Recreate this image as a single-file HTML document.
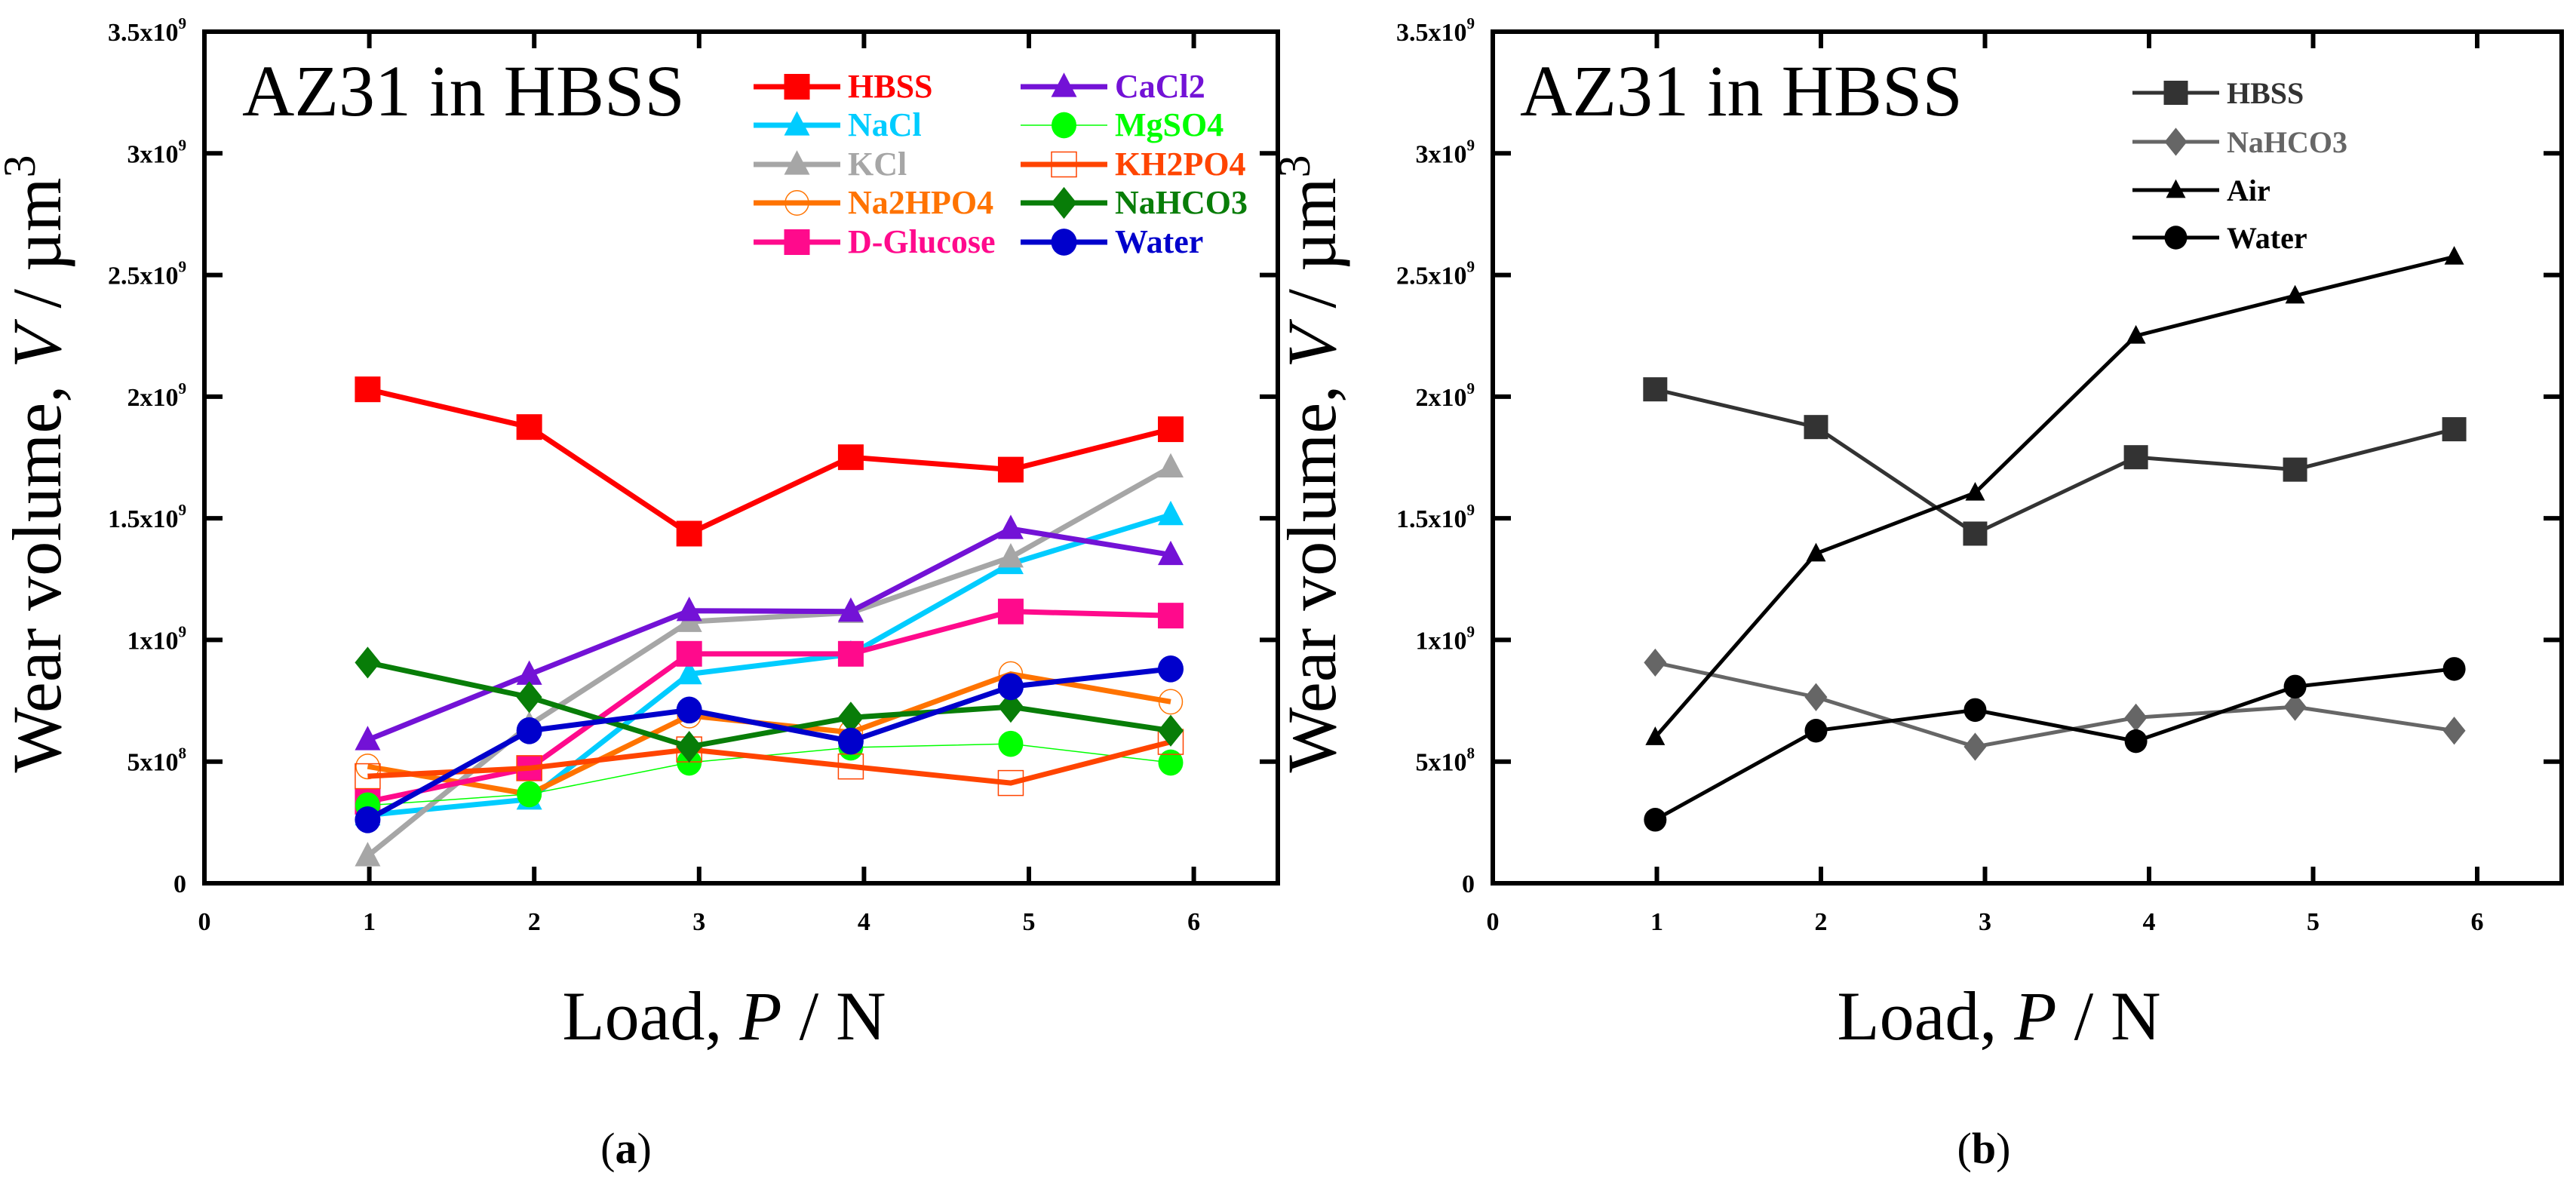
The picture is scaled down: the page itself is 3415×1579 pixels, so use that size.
<!DOCTYPE html>
<html><head><meta charset="utf-8"><style>
html,body{margin:0;padding:0;background:#fff;}
svg{display:block;}
</style></head><body>
<svg id="fig" xmlns="http://www.w3.org/2000/svg" width="3415" height="1579" viewBox="0 0 3415 1579">
<rect width="3415" height="1579" fill="#fff"/>
</svg>
<script>
const loads = [0.99, 1.97, 2.94, 3.92, 4.89, 5.86];
const xTicks = [0, 1, 2, 3, 4, 5, 6];
const yTicks = [0, 0.5, 1, 1.5, 2, 2.5, 3, 3.5];
const yTickLabels = [["0",""],["5x10","8"],["1x10","9"],["1.5x10","9"],["2x10","9"],["2.5x10","9"],["3x10","9"],["3.5x10","9"]];
const hbss = [2.03, 1.875, 1.437, 1.751, 1.70, 1.866];
const nacl = [0.28, 0.345, 0.86, 0.941, 1.313, 1.514];
const kcl = [0.112, 0.65, 1.075, 1.112, 1.34, 1.71];
const na2hpo4 = [0.48, 0.366, 0.689, 0.62, 0.86, 0.746];
const dglucose = [0.335, 0.473, 0.943, 0.943, 1.117, 1.10];
const cacl2 = [0.589, 0.858, 1.12, 1.117, 1.457, 1.35];
const mgso4 = [0.32, 0.366, 0.496, 0.558, 0.573, 0.496];
const kh2po4 = [0.44, 0.473, 0.55, 0.48, 0.412, 0.581];
const nahco3 = [0.907, 0.765, 0.561, 0.681, 0.725, 0.627];
const water = [0.261, 0.627, 0.712, 0.584, 0.808, 0.881];
const air = [0.6, 1.355, 1.605, 2.25, 2.415, 2.575];

const NS = "http://www.w3.org/2000/svg";
const svg = document.getElementById('fig');
function el(tag, attrs, parent, txt){
  const e = document.createElementNS(NS, tag);
  for (const k in attrs) e.setAttribute(k, attrs[k]);
  if (txt !== undefined) e.textContent = txt;
  (parent||svg).appendChild(e);
  return e;
}
const Y0 = 1171, YTOP = 42;
function makeY(){ return v => Y0 - v/3.5*(Y0-YTOP); }

function marker(g, type, cx, cy, color, s){
  let m;
  if (type==='square'){ m = el('rect',{x:cx-s/2,y:cy-s/2,width:s,height:s,fill:color},g); }
  else if (type==='osquare'){ m = el('rect',{x:cx-s/2,y:cy-s/2,width:s,height:s,fill:'none',stroke:color,'stroke-width':1.5},g); }
  else if (type==='circle'){ m = el('ellipse',{cx:cx,cy:cy,rx:s/2,ry:s/2*1.05,fill:color},g); }
  else if (type==='ocircle'){ m = el('ellipse',{cx:cx,cy:cy,rx:s/2,ry:s/2*1.05,fill:'none',stroke:color,'stroke-width':1.5},g); }
  else if (type==='triangle'){ m = el('polygon',{points:`${cx},${cy-s*0.55} ${cx-s/2},${cy+s*0.4} ${cx+s/2},${cy+s*0.4}`,fill:color},g); }
  else if (type==='diamond'){ m = el('polygon',{points:`${cx},${cy-s*0.62} ${cx+s*0.5},${cy} ${cx},${cy+s*0.62} ${cx-s*0.5},${cy}`,fill:color},g); }
  return m;
}

function drawPanel(p){
  const X0 = p.x0, step = p.step;
  const xs = v => X0 + v*step;
  const ys = makeY();
  const g = el('g',{});
  
  
  // series
  p.series.forEach(s=>{
    const sg = el('g',{},g);
    
    
    const pts = s.data.map((v,i)=>xs(loads[i])+','+ys(v)).join(' ');
    el('polyline',{points:pts,fill:'none',stroke:s.color,'stroke-width':s.lw,'stroke-linejoin':'miter'},sg);
    s.data.forEach((v,i)=>{
      const m = marker(sg, s.marker, xs(loads[i]), ys(v), s.mcolor||s.color, s.ms);
      
      
    });
  });
  // frame
  const fr = el('rect',{x:X0,y:YTOP,width:p.right-X0,height:Y0-YTOP,fill:'none',stroke:'#000','stroke-width':6},g);
  
  
  // x ticks
  xTicks.forEach(t=>{
    const x = xs(t);
    if (t>0){
      el('line',{x1:x,y1:Y0,x2:x,y2:Y0-22,stroke:'#000','stroke-width':6},g);
      el('line',{x1:x,y1:YTOP,x2:x,y2:YTOP+22,stroke:'#000','stroke-width':6},g);
    }
    const tl = el('text',{x:x,y:Y0+62,'text-anchor':'middle','font-family':'Liberation Serif, serif','font-weight':'bold','font-size':p.tfs},g,String(t));
    
    
  });
  // y ticks
  yTicks.forEach((t,i)=>{
    const y = ys(t);
    if (t>0 && t<3.5){
      el('line',{x1:X0,y1:y,x2:X0+24,y2:y,stroke:'#000','stroke-width':6},g);
      el('line',{x1:p.right,y1:y,x2:p.right-24,y2:y,stroke:'#000','stroke-width':6},g);
    }
    const tl = el('text',{x:X0-24,y:y+12,'text-anchor':'end','font-family':'Liberation Serif, serif','font-weight':'bold','font-size':p.tfs},g);
    
    
    const a = el('tspan',{},tl,yTickLabels[i][0]);
    if (yTickLabels[i][1]) el('tspan',{dy:-16,'font-size':p.tfs*0.62},tl,yTickLabels[i][1]);
  });
  // title
  const tt = el('text',{x:p.titleX,y:p.titleY,'font-family':'Liberation Serif, serif','font-size':p.titleFs},g,'AZ31 in HBSS');
  
  
  // legend
  p.series.forEach((s,i)=>{
    const L = p.legendPos[i];
    const lg = el('g',{},g);
    
    
    el('line',{x1:L[0],y1:L[1],x2:L[0]+p.legLen,y2:L[1],stroke:s.color,'stroke-width':s.lw},lg);
    marker(lg, s.marker, L[0]+p.legLen/2, L[1], s.mcolor||s.color, s.ms);
    el('text',{x:L[0]+p.legLen+10,y:L[1]+14,'font-family':'Liberation Serif, serif','font-weight':'bold','font-size':p.legFs,fill:s.tcolor||s.color},lg,s.label);
  });
  // axis titles
  const xt = el('text',{x:p.xlabX,y:1378,'text-anchor':'middle','font-family':'Liberation Serif, serif','font-size':92},g);
  
  
  el('tspan',{},xt,'Load, ');
  el('tspan',{'font-style':'italic'},xt,'P');
  el('tspan',{},xt,' / N');
  const yt = el('text',{x:0,y:0,'text-anchor':'middle','font-family':'Liberation Serif, serif','font-size':92,transform:`translate(${p.ylabX},615) rotate(-90)`},g);
  
  
  el('tspan',{},yt,'Wear volume, ');
  el('tspan',{'font-style':'italic'},yt,'V');
  el('tspan',{},yt,' / \u00b5m');
  el('tspan',{dy:-34,'font-size':60},yt,'3');
  const cap = el('text',{x:p.capX,y:1542,'text-anchor':'middle','font-family':'Liberation Serif, serif','font-size':58},g);
  
  
  el('tspan',{},cap,'(');
  el('tspan',{'font-weight':'bold'},cap,p.cap);
  el('tspan',{},cap,')');
}

const seriesA = [
  {key:'hbss',label:'HBSS',data:hbss,color:'#ff0000',marker:'square',ms:34,lw:7},
  {key:'nacl',label:'NaCl',data:nacl,color:'#00ccff',marker:'triangle',ms:34,lw:7},
  {key:'kcl',label:'KCl',data:kcl,color:'#a6a6a6',marker:'triangle',ms:34,lw:7},
  {key:'na2hpo4',label:'Na2HPO4',data:na2hpo4,color:'#ff7300',marker:'ocircle',ms:31,lw:7},
  {key:'dglucose',label:'D-Glucose',data:dglucose,color:'#ff0a8c',marker:'square',ms:34,lw:7},
  {key:'cacl2',label:'CaCl2',data:cacl2,color:'#7312d6',marker:'triangle',ms:34,lw:7},
  {key:'mgso4',label:'MgSO4',data:mgso4,color:'#00ff00',marker:'circle',ms:33,lw:1.5},
  {key:'kh2po4',label:'KH2PO4',data:kh2po4,color:'#ff4400',marker:'osquare',ms:33,lw:7},
  {key:'nahco3',label:'NaHCO3',data:nahco3,color:'#087d08',marker:'diamond',ms:34,lw:7},
  {key:'water',label:'Water',data:water,color:'#0000cc',marker:'circle',ms:34,lw:7}
];
const lpA = [];
[115,166,218,269,321].forEach(y=>lpA.push([999,y]));
[115,166,218,269,321].forEach(y=>lpA.push([1353,y]));
drawPanel({name:'panel-a',x0:271,step:218.6,right:1694,series:seriesA,legendPos:lpA,legLen:115,legFs:44,tfs:34,
  titleX:321,titleY:153,titleFs:96,xlabX:960,ylabX:80,capX:830,cap:'a'});

const seriesB = [
  {key:'hbss-b',label:'HBSS',data:hbss,color:'#333333',marker:'square',ms:32,lw:5},
  {key:'nahco3-b',label:'NaHCO3',data:nahco3,color:'#666666',marker:'diamond',ms:30,lw:5},
  {key:'air-b',label:'Air',data:air,color:'#000000',marker:'triangle',ms:26,lw:5},
  {key:'water-b',label:'Water',data:water,color:'#000000',marker:'circle',ms:30,lw:5}
];
seriesB[0].tcolor='#333333';
const lpB = [[2827,123],[2827,188],[2827,252],[2827,315]];
drawPanel({name:'panel-b',x0:1979,step:217.5,right:3396,series:seriesB,legendPos:lpB,legLen:115,legFs:40,tfs:34,
  titleX:2015,titleY:153,titleFs:96,xlabX:2650,ylabX:1770,capX:2630,cap:'b'});
</script>
</body></html>
